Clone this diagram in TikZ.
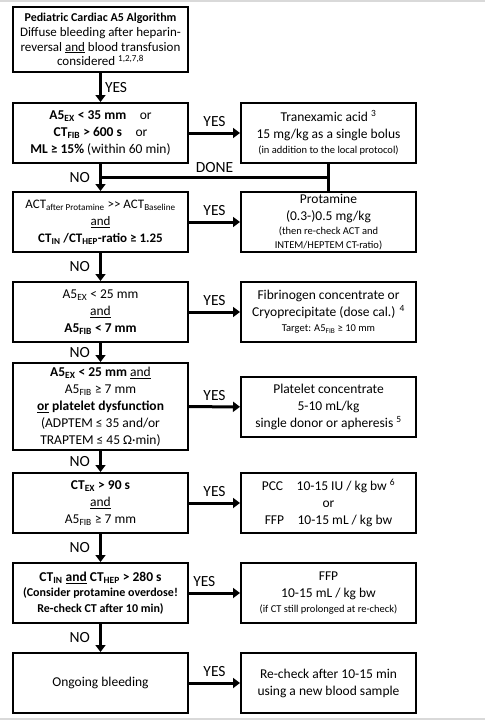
\documentclass[tikz,border=0pt]{standalone}
\usepackage{fontspec}
\setmainfont{Carlito}
\usetikzlibrary{arrows.meta}

\tikzset{
  box/.style={draw, line width=2pt, minimum width=175pt, minimum height=60pt, align=center, inner sep=1pt, font=\fontsize{13.5}{17}\selectfont},
  flow/.style={line width=3pt, -{Triangle[length=7pt,width=10pt]}},
  link/.style={line width=3pt},
  lbl/.style={font=\fontsize{15.5}{17}\selectfont, inner sep=3pt},
}
\newcommand{\smalltxt}{\fontsize{10.5}{13.5}\selectfont}

\begin{document}
\begin{tikzpicture}[x=1pt,y=-1pt]
	%%%%% START %%%%%
	
	\useasboundingbox (0,0) rectangle (485,720);
	\draw[black!15, line width=1.5pt] (0,1) -- (485,1);
	\draw[black!15, line width=1.5pt] (0,719) -- (485,719);
	
	\node[box, minimum height=65pt, font=\fontsize{13}{14.8}\selectfont] (start) at (100.5,39.5) {{\fontsize{12}{14.8}\selectfont\bfseries Pediatric Cardiac A5 Algorithm}\\ Diffuse bleeding after heparin-\\ reversal \underline{and} blood transfusion\\ considered \textsuperscript{1,2,7,8}};
	
	\node[box] (q1) at (100.5,133) {\textbf{A5\textsubscript{EX} < 35 mm}\quad or\\ \textbf{CT\textsubscript{FIB} > 600 s}\quad or\\ \textbf{ML ≥ 15\%} (within 60 min)};
	\node[box] (r1) at (328.5,133) {Tranexamic acid \textsuperscript{3}\\ 15 mg/kg as a single bolus\\[-2pt] {\smalltxt (in addition to the local protocol)}};
	
	\node[box, font=\fontsize{13}{17}\selectfont] (q2) at (100.5,222) {ACT\textsubscript{after Protamine} >\kern0pt> ACT\textsubscript{Baseline}\\ \underline{and}\\ \textbf{CT\textsubscript{IN} /CT\textsubscript{HEP}-ratio ≥ 1.25}};
	\node[box] (r2) at (328.5,222) {Protamine\\ (0.3-)0.5 mg/kg\\[-2.5pt] {\smalltxt (then re-check ACT and}\\[-3.5pt] {\smalltxt INTEM/HEPTEM CT-ratio)}};
	
	\node[box] (q3) at (100.5,312) {A5\textsubscript{EX} < 25 mm\\ \underline{and}\\ \textbf{A5\textsubscript{FIB} < 7 mm}};
	\node[box] (r3) at (328.5,312) {Fibrinogen concentrate or\\ Cryoprecipitate (dose cal.) \textsuperscript{4}\\[-2pt] {\smalltxt Target: A5\textsubscript{FIB} ≥ 10 mm}};
	
	\node[box, minimum height=87pt] (q4) at (100.5,406.5) {\textbf{A5\textsubscript{EX} < 25 mm} \underline{and}\\ A5\textsubscript{FIB} ≥ 7 mm\\ \textbf{\underline{or} platelet dysfunction}\\ (ADPTEM ≤ 35 and/or\\ TRAPTEM ≤ 45 Ω·min)};
	\node[box] (r4) at (328.5,407) {Platelet concentrate\\ 5-10 mL/kg\\ single donor or apheresis \textsuperscript{5}};
	
	\node[box] (q5) at (100.5,503) {\textbf{CT\textsubscript{EX} > 90 s}\\ \underline{and}\\ A5\textsubscript{FIB} ≥ 7 mm};
	\node[box] (r5) at (328.5,503) {PCC\quad 10-15 IU / kg bw \textsuperscript{6}\\ or\\ FFP\quad 10-15 mL / kg bw};
	
	\node[box, font=\fontsize{13.5}{15.5}\selectfont\bfseries] (q6) at (100.5,593) {CT\textsubscript{IN} \underline{and} CT\textsubscript{HEP} > 280 s\\ {\fontsize{12}{15.5}\selectfont (Consider protamine overdose!}\\ {\fontsize{12}{15.5}\selectfont Re-check CT after 10 min)}};
	\node[box] (r6) at (328.5,593) {FFP\\ 10-15 mL / kg bw\\[-1.5pt] {\smalltxt (if CT still prolonged at re-check)}};
	
	\node[box] (q7) at (100.5,683) {Ongoing bleeding};
	\node[box] (r7) at (328.5,683) {Re-check after 10-15 min\\ using a new blood sample};
	
	% down the left side
	\coordinate (join) at (100.5,177);
	\coordinate (done) at (328.5,177);
	\draw[flow] (start) -- node[lbl, right] {YES} (q1);
	\draw[flow] (q1) -- node[lbl, left=6pt] {NO} (q2);
	\draw[flow] (q2) -- node[lbl, left=6pt] {NO} (q3);
	\draw[flow] (q3) -- node[lbl, left=6pt] {NO} (q4);
	\draw[flow] (q4) -- node[lbl, left=6pt] {NO} (q5);
	\draw[flow] (q5) -- node[lbl, left=6pt] {NO} (q6);
	\draw[flow] (q6) -- node[lbl, left=6pt] {NO} (q7);
	
	% across to the right side
	\draw[flow] (q1) -- node[lbl, above=2pt] {YES} (r1);
	\draw[flow] (q2) -- node[lbl, above=2pt] {YES} (r2);
	\draw[flow] (q3) -- node[lbl, above=2pt] {YES} (r3);
	\draw[flow] (q4) -- node[lbl, above=2pt] {YES} (r4);
	\draw[flow] (q5) -- node[lbl, above=2pt] {YES} (r5);
	\draw[flow] (q6) -- node[lbl, above=2pt, pos=0.3] {YES} (r6);
	\draw[flow] (q7) -- node[lbl, above=2pt] {YES} (r7);
	
	% back from tranexamic acid
	\draw[link] (r1) -- (r2);
	\draw[link] (done) -- node[lbl, above] {DONE} (join);
	
	%%%%% END %%%%%
\end{tikzpicture}
\end{document}
